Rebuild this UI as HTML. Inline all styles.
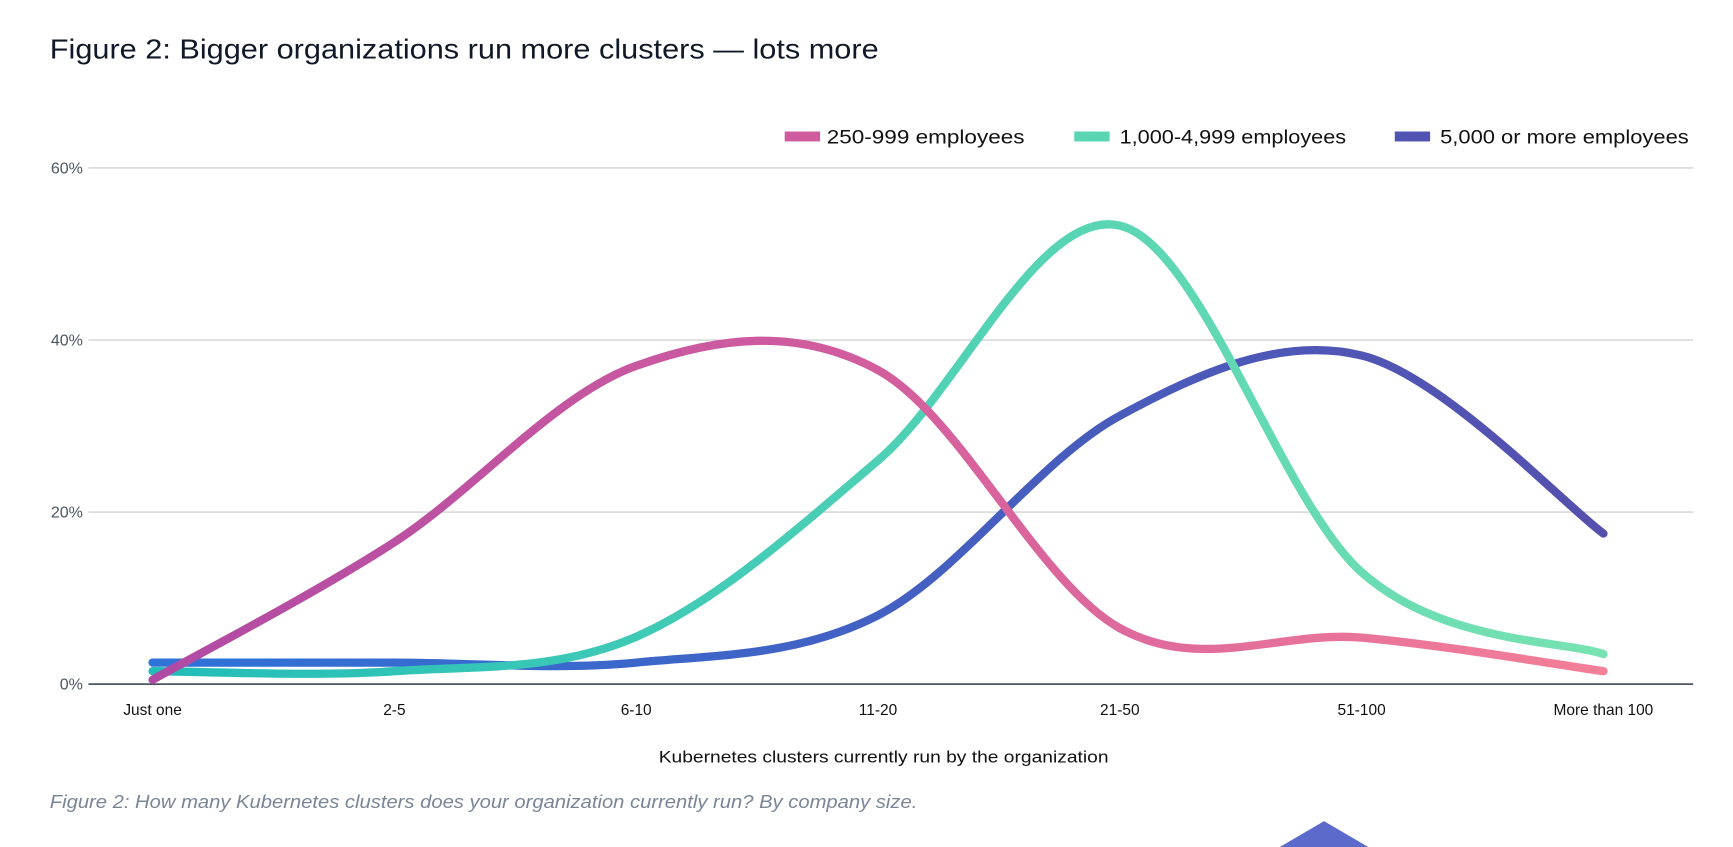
<!DOCTYPE html>
<html><head><meta charset="utf-8"><style>
html,body{margin:0;padding:0;background:#fff;width:1733px;height:847px;overflow:hidden}
svg{display:block;font-family:"Liberation Sans",sans-serif}
</style></head><body>
<svg id="chart" width="1733" height="847" viewBox="0 0 1568 766.4" xmlns="http://www.w3.org/2000/svg">
<defs>
<linearGradient id="gPink" gradientUnits="userSpaceOnUse" x1="138" y1="0" x2="1451" y2="0"><stop offset="0" stop-color="#b04aa4"/><stop offset="0.5" stop-color="#d35e9e"/><stop offset="1" stop-color="#f47f98"/></linearGradient>
<linearGradient id="gGreen" gradientUnits="userSpaceOnUse" x1="138" y1="0" x2="1451" y2="0"><stop offset="0" stop-color="#22bdb8"/><stop offset="1" stop-color="#78e2b2"/></linearGradient>
<linearGradient id="gBlue" gradientUnits="userSpaceOnUse" x1="138" y1="0" x2="1451" y2="0"><stop offset="0" stop-color="#2f72d8"/><stop offset="1" stop-color="#5650ad"/></linearGradient>
</defs>
<text x="45" y="53" font-size="25" fill="#111827" textLength="750" lengthAdjust="spacingAndGlyphs">Figure 2: Bigger organizations run more clusters — lots more</text>
<g id="legend"></g>
<g id="grid"></g>
<g id="series"></g>
<g id="xlabels"></g>
<text x="596" y="690" font-size="15" fill="#111" textLength="407" lengthAdjust="spacingAndGlyphs">Kubernetes clusters currently run by the organization</text>
<text x="45" y="731" font-size="16.5" font-style="italic" fill="#7a8596" textLength="785" lengthAdjust="spacingAndGlyphs">Figure 2: How many Kubernetes clusters does your organization currently run? By company size.</text>
<polygon points="1158,766.4 1198,743 1238,766.4" fill="#5b6acb"/>
</svg>
<script>
const categories = ["Just one","2-5","6-10","11-20","21-50","51-100","More than 100"];
const yTicks = [0,20,40,60];
const seriesNames = ["250-999 employees","1,000-4,999 employees","5,000 or more employees"];
const pinkValues = [0.5,16.5,37,36.5,6.5,5.4,1.5];
const greenValues = [1.5,1.5,5.5,26,53.3,13,3.5];
const blueValues = [2.5,2.5,2.5,8,31.2,38.2,17.5];

const NS="http://www.w3.org/2000/svg";
const X0=138, DX=218.8, Y0=619, YPER=(619-152)/60;
function xs(i){return X0+i*DX;}
function ys(v){return Y0-v*YPER;}
function mk(tag,attrs,parent){const e=document.createElementNS(NS,tag);for(const k in attrs)e.setAttribute(k,attrs[k]);parent.appendChild(e);return e;}

const grid=document.getElementById('grid');
yTicks.forEach(t=>{
  const l=mk('line',{x1:80,x2:1532,y1:ys(t),y2:ys(t),stroke:t===0?'#4b5563':'#c8c8c8','stroke-width':t===0?1.6:1},grid);
  
  
  const tx=mk('text',{x:75,y:ys(t)+5,'font-size':14.5,'text-anchor':'end',fill:'#4b5563'},grid);
  tx.textContent=t+'%';
  
  
});
const xl=document.getElementById('xlabels');
categories.forEach((c,i)=>{
  const tx=mk('text',{x:xs(i),y:647,'font-size':14,'text-anchor':'middle',fill:'#111'},xl);
  tx.textContent=c;
  
  
});
function pathFor(vals){
  const p=vals.map((v,i)=>[xs(i),ys(v)]);
  let d='M'+p[0][0]+','+p[0][1];
  const t=0.5;
  for(let i=0;i<p.length-1;i++){
    const p0=p[i-1]||p[i],p1=p[i],p2=p[i+1],p3=p[i+2]||p2;
    const c1=[p1[0]+(p2[0]-p0[0])*t/3,p1[1]+(p2[1]-p0[1])*t/3];
    const c2=[p2[0]-(p3[0]-p1[0])*t/3,p2[1]-(p3[1]-p1[1])*t/3];
    d+=' C'+c1[0]+','+c1[1]+' '+c2[0]+','+c2[1]+' '+p2[0]+','+p2[1];
  }
  return d;
}
const sg=document.getElementById('series');
[[blueValues,'url(#gBlue)','line-5000-plus'],[greenValues,'url(#gGreen)','line-1000-4999'],[pinkValues,'url(#gPink)','line-250-999']].forEach(s=>{
  const e=mk('path',{d:pathFor(s[0]),fill:'none',stroke:s[1],'stroke-width':7.5,'stroke-linecap':'round'},sg);
  
  
});
const lg=document.getElementById('legend');
const legendPos=[[710,748,179],[972,1013,205],[1262,1303,225]];
const legendFill=['url(#gPink)','url(#gGreen)','url(#gBlue)'];
seriesNames.forEach((n,i)=>{
  const r=mk('rect',{x:legendPos[i][0],y:119,width:32,height:9,fill:legendFill[i]},lg);
  
  
  const tx=mk('text',{x:legendPos[i][1],y:130,'font-size':17.5,fill:'#111',textLength:legendPos[i][2],lengthAdjust:'spacingAndGlyphs'},lg);
  tx.textContent=n;
  
  
});
</script>
</body></html>
